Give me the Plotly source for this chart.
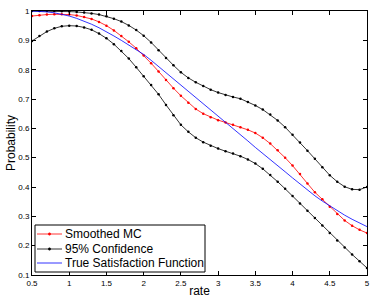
import plotly.graph_objects as go

rate = [round(0.5 + 0.1 * i, 1) for i in range(46)]

smoothed_mc = [0.983, 0.986, 0.988, 0.989, 0.989, 0.988, 0.985, 0.980, 0.973, 0.963,
               0.950, 0.934, 0.915, 0.895, 0.873, 0.848, 0.822, 0.794, 0.765, 0.737,
               0.711, 0.687, 0.666, 0.650, 0.638, 0.628, 0.620, 0.612, 0.604, 0.595,
               0.584, 0.568, 0.548, 0.525, 0.500, 0.473, 0.444, 0.412, 0.382, 0.358,
               0.333, 0.308, 0.286, 0.268, 0.254, 0.243]

upper_ci = [1.000, 1.000, 1.000, 1.000, 0.999, 0.998, 0.997, 0.995, 0.992, 0.988,
            0.982, 0.974, 0.964, 0.951, 0.935, 0.916, 0.893, 0.866, 0.840, 0.815,
            0.791, 0.772, 0.757, 0.744, 0.732, 0.722, 0.714, 0.707, 0.701, 0.690,
            0.678, 0.664, 0.647, 0.627, 0.604, 0.578, 0.552, 0.524, 0.496, 0.467,
            0.440, 0.418, 0.401, 0.392, 0.391, 0.400]

lower_ci = [0.898, 0.915, 0.930, 0.941, 0.948, 0.950, 0.949, 0.944, 0.936, 0.923,
            0.907, 0.887, 0.864, 0.838, 0.808, 0.778, 0.748, 0.716, 0.680, 0.645,
            0.612, 0.588, 0.568, 0.553, 0.541, 0.531, 0.522, 0.514, 0.505, 0.494,
            0.480, 0.462, 0.441, 0.418, 0.394, 0.369, 0.344, 0.319, 0.294, 0.269,
            0.243, 0.218, 0.194, 0.170, 0.147, 0.124]

true_sat = [1.000, 0.999, 0.997, 0.994, 0.989, 0.983, 0.975, 0.966, 0.955, 0.943,
            0.930, 0.915, 0.900, 0.884, 0.868, 0.852, 0.832, 0.811, 0.790, 0.769,
            0.748, 0.727, 0.706, 0.685, 0.664, 0.643, 0.623, 0.601, 0.579, 0.557,
            0.535, 0.515, 0.494, 0.473, 0.452, 0.431, 0.410, 0.390, 0.370, 0.352,
            0.335, 0.319, 0.304, 0.290, 0.277, 0.265]

x_ticks = [0.5, 1, 1.5, 2, 2.5, 3, 3.5, 4, 4.5, 5]
x_tick_labels = ["0.5", "1", "1.5", "2", "2.5", "3", "3.5", "4", "4.5", "5"]
y_ticks = [0.1, 0.2, 0.3, 0.4, 0.5, 0.6, 0.7, 0.8, 0.9, 1.0]
y_tick_labels = ["0.1", "0.2", "0.3", "0.4", "0.5", "0.6", "0.7", "0.8", "0.9", "1"]

legend_names = ["Smoothed MC", "95% Confidence", "True Satisfaction Function"]
legend_colors = ["#ff0000", "#000000", "#0000ff"]
legend_has_marker = [True, True, False]

FONT = "Liberation Sans, Arial, Helvetica, sans-serif"
LW = 0.8
MS = 2.5

fig = go.Figure()
fig.add_trace(go.Scatter(x=rate, y=smoothed_mc, mode="lines+markers", name=legend_names[0],
                         line=dict(color=legend_colors[0], width=LW),
                         marker=dict(color=legend_colors[0], size=MS, symbol="circle")))
fig.add_trace(go.Scatter(x=rate, y=upper_ci, mode="lines+markers", name=legend_names[1],
                         line=dict(color=legend_colors[1], width=LW),
                         marker=dict(color=legend_colors[1], size=MS, symbol="circle")))
fig.add_trace(go.Scatter(x=rate, y=lower_ci, mode="lines+markers", name=legend_names[1],
                         line=dict(color=legend_colors[1], width=LW),
                         marker=dict(color=legend_colors[1], size=MS, symbol="circle")))
fig.add_trace(go.Scatter(x=rate, y=true_sat, mode="lines", name=legend_names[2],
                         line=dict(color=legend_colors[2], width=LW)))

axis_common = dict(showgrid=False, zeroline=False, showline=True, linecolor="black",
                   linewidth=1, mirror="allticks", ticks="inside", ticklen=4,
                   tickcolor="black", automargin=False,
                   tickfont=dict(size=8, color="black", family=FONT))

fig.update_xaxes(range=[0.5, 5.0001], tickvals=x_ticks, ticktext=x_tick_labels,
                 title=dict(text="rate", font=dict(size=12, color="black", family=FONT),
                            standoff=0),
                 **axis_common)
fig.update_yaxes(range=[0.1, 1.0001], tickvals=y_ticks, ticktext=y_tick_labels,
                 title=dict(text="Probability", font=dict(size=12, color="black", family=FONT),
                            standoff=0),
                 **axis_common)

# Legend box (MATLAB-style) drawn in paper coordinates
PW, PH = 335.0, 264.0  # plot area size in px
def px_x(p):
    return p / PW
def px_y(p):
    return p / PH

box_x0, box_x1 = px_x(3), px_x(173)
box_y0, box_y1 = px_y(3), px_y(50)
shapes = [dict(type="rect", xref="paper", yref="paper", x0=box_x0, x1=box_x1,
               y0=box_y0, y1=box_y1, line=dict(color="black", width=1),
               fillcolor="white", layer="above")]
annotations = []
row_y = [px_y(41), px_y(26), px_y(12)]
line_x0, line_x1 = px_x(5), px_x(30)
for name, col, has_m, yy in zip(legend_names, legend_colors, legend_has_marker, row_y):
    shapes.append(dict(type="line", xref="paper", yref="paper", x0=line_x0, x1=line_x1,
                       y0=yy, y1=yy, line=dict(color=col, width=LW), layer="above"))
    if has_m:
        cx = (line_x0 + line_x1) / 2
        shapes.append(dict(type="circle", xref="paper", yref="paper",
                           x0=cx - px_x(1.2), x1=cx + px_x(1.2),
                           y0=yy - px_y(1.2), y1=yy + px_y(1.2),
                           line=dict(color=col, width=0.5), fillcolor=col, layer="above"))
    annotations.append(dict(xref="paper", yref="paper", x=px_x(31), y=yy, text=name,
                            showarrow=False, xanchor="left", yanchor="middle",
                            font=dict(size=12, color="black", family=FONT)))

fig.update_layout(
    width=374, height=301,
    margin=dict(l=32, r=7, t=11, b=26, autoexpand=False),
    paper_bgcolor="white", plot_bgcolor="white",
    font=dict(family=FONT, color="black"),
    showlegend=False,
    hovermode=False,
    shapes=shapes,
    annotations=annotations,
)

fig.write_html("out.html",
               config={"displayModeBar": False, "staticPlot": True},
               post_script="document.body.style.margin='0';document.body.style.padding='0';")
